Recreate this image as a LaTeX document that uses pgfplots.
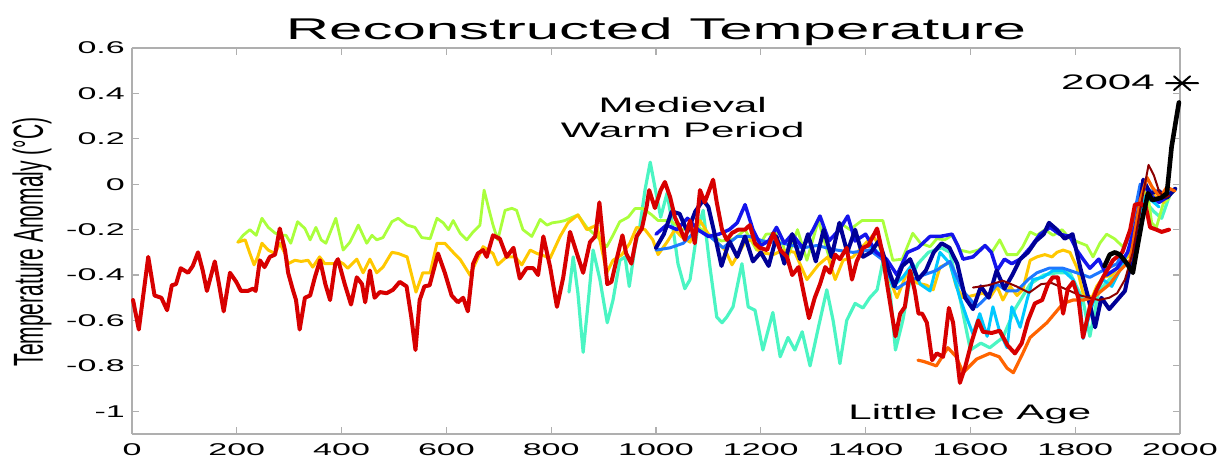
\documentclass[border=0pt]{standalone}
\usepackage{pgfplots}
\pgfplotsset{compat=1.18}
\usepackage{fontspec}
\setmainfont{Liberation Sans}
\newcommand{\sx}[1]{\scalebox{2}[1]{#1}}
\definecolor{cnavy}{RGB}{0,0,150}
\definecolor{cblue}{RGB}{20,20,235}
\definecolor{clblue}{RGB}{30,120,255}
\definecolor{ccyan}{RGB}{0,200,255}
\definecolor{caqua}{RGB}{75,245,195}
\definecolor{cyg}{RGB}{170,255,60}
\definecolor{cyel}{RGB}{255,200,0}
\definecolor{corange}{RGB}{255,100,0}
\definecolor{cred}{RGB}{215,0,0}
\definecolor{cdred}{RGB}{140,0,0}
\definecolor{axgray}{RGB}{175,175,175}
\begin{document}
\begin{tikzpicture}
\useasboundingbox (-132pt,-23pt) rectangle (1089pt,434pt);
\begin{axis}[
  at={(0pt,0pt)}, anchor=south west,
  width=1048pt, height=386pt, scale only axis,
  xmin=0, xmax=2000, ymin=-1.1, ymax=0.6,
  clip=false,
  xtick={0,200,400,600,800,1000,1200,1400,1600,1800,2000},
  xticklabels={\sx{0},\sx{200},\sx{400},\sx{600},\sx{800},\sx{1000},\sx{1200},\sx{1400},\sx{1600},\sx{1800},\sx{2000}},
  ytick={-1,-0.8,-0.6,-0.4,-0.2,0,0.2,0.4,0.6},
  yticklabels={\sx{-1},\sx{-0.8},\sx{-0.6},\sx{-0.4},\sx{-0.2},\sx{0},\sx{0.2},\sx{0.4},\sx{0.6}},
  tick label style={font=\fontsize{17}{20}\selectfont, inner sep=0pt},
  yticklabel style={anchor=east, xshift=-7pt},
  xticklabel style={anchor=north, yshift=-9pt},
  tick align=inside,
  major tick length=7pt,
  tick style={draw=axgray, line width=1.2pt},
  separate axis lines,
  x axis line style={draw=axgray, line width=1.3pt},
  y axis line style={draw=axgray, line width=2.6pt},
  every axis plot/.append style={line join=round, line cap=round, mark=none},
]
% Esper (aquamarine)
\addplot[caqua, line width=3.2pt] coordinates {(834,-0.475) (842,-0.32) (851,-0.48) (861,-0.74) (871,-0.51) (880,-0.29) (893,-0.42) (907,-0.61) (918,-0.51) (931,-0.335) (941,-0.32) (949,-0.45) (960,-0.275) (969,-0.19) (979,-0.026) (989,0.097) (998,-0.013) (1009,-0.145) (1021,-0.04) (1031,-0.17) (1042,-0.35) (1055,-0.46) (1065,-0.42) (1078,-0.216) (1090,-0.115) (1103,-0.365) (1116,-0.585) (1126,-0.61) (1135,-0.585) (1147,-0.54) (1155,-0.45) (1164,-0.35) (1176,-0.54) (1189,-0.555) (1204,-0.73) (1223,-0.565) (1237,-0.76) (1252,-0.675) (1265,-0.73) (1279,-0.65) (1294,-0.80) (1310,-0.63) (1326,-0.465) (1338,-0.6) (1351,-0.79) (1364,-0.60) (1380,-0.525) (1395,-0.545) (1408,-0.50) (1422,-0.465) (1433,-0.34) (1447,-0.48) (1457,-0.73) (1471,-0.60) (1485,-0.42) (1500,-0.35) (1520,-0.3) (1545,-0.28) (1561,-0.3) (1580,-0.5) (1600,-0.73) (1620,-0.7) (1637,-0.72) (1662,-0.675) (1685,-0.55) (1714,-0.44) (1740,-0.4) (1765,-0.39) (1790,-0.39) (1815,-0.51) (1828,-0.67) (1845,-0.47) (1865,-0.42) (1885,-0.35) (1905,-0.3) (1920,-0.18) (1935,-0.08) (1950,-0.12) (1965,-0.15) (1980,-0.05) (1992,-0.02)};
% Mann & Jones 2003 (yellow-green)
\addplot[cyg, line width=2.8pt] coordinates {(202,-0.255) (212,-0.225) (225,-0.2) (237,-0.225) (248,-0.15) (260,-0.19) (273,-0.215) (285,-0.225) (294,-0.225) (303,-0.26) (316,-0.165) (330,-0.195) (340,-0.245) (351,-0.19) (361,-0.245) (370,-0.26) (389,-0.15) (403,-0.29) (416,-0.255) (432,-0.18) (448,-0.26) (458,-0.225) (467,-0.245) (479,-0.235) (496,-0.165) (508,-0.15) (525,-0.18) (540,-0.19) (553,-0.235) (569,-0.24) (582,-0.15) (594,-0.17) (604,-0.2) (613,-0.16) (626,-0.215) (639,-0.245) (651,-0.21) (664,-0.18) (672,-0.026) (680,-0.1) (689,-0.18) (698,-0.245) (712,-0.115) (725,-0.106) (734,-0.115) (746,-0.2) (763,-0.23) (779,-0.155) (792,-0.18) (802,-0.17) (817,-0.165) (826,-0.16) (851,-0.135) (868,-0.19) (887,-0.23) (906,-0.275) (918,-0.225) (931,-0.165) (947,-0.145) (960,-0.107) (975,-0.107) (992,-0.135) (1004,-0.16) (1027,-0.16) (1050,-0.2) (1075,-0.18) (1100,-0.22) (1125,-0.25) (1150,-0.24) (1170,-0.2) (1192,-0.29) (1210,-0.22) (1237,-0.216) (1250,-0.335) (1270,-0.2) (1288,-0.335) (1310,-0.16) (1332,-0.335) (1351,-0.17) (1370,-0.2) (1393,-0.16) (1408,-0.16) (1433,-0.16) (1452,-0.335) (1470,-0.33) (1490,-0.216) (1505,-0.26) (1523,-0.275) (1536,-0.24) (1551,-0.245) (1565,-0.225) (1580,-0.29) (1599,-0.3) (1615,-0.29) (1628,-0.27) (1641,-0.3) (1656,-0.245) (1670,-0.31) (1689,-0.31) (1700,-0.275) (1714,-0.21) (1727,-0.225) (1742,-0.2) (1758,-0.225) (1775,-0.2) (1790,-0.24) (1806,-0.255) (1822,-0.27) (1834,-0.32) (1847,-0.26) (1860,-0.22) (1875,-0.24) (1891,-0.275) (1905,-0.22) (1920,-0.115) (1937,-0.013) (1946,-0.17) (1955,-0.19) (1968,-0.085) (1980,-0.06)};
% Jones & Mann 2004 (yellow)
\addplot[cyel, line width=3pt] coordinates {(202,-0.255) (216,-0.245) (225,-0.305) (233,-0.355) (240,-0.32) (248,-0.26) (260,-0.29) (273,-0.305) (282,-0.26) (292,-0.305) (298,-0.35) (311,-0.335) (323,-0.34) (336,-0.335) (345,-0.365) (358,-0.32) (368,-0.35) (387,-0.35) (391,-0.335) (403,-0.35) (412,-0.37) (429,-0.33) (441,-0.39) (454,-0.33) (467,-0.39) (479,-0.365) (496,-0.30) (508,-0.305) (525,-0.32) (542,-0.475) (555,-0.39) (569,-0.39) (582,-0.26) (597,-0.26) (613,-0.30) (626,-0.33) (645,-0.40) (658,-0.335) (670,-0.275) (689,-0.305) (698,-0.355) (715,-0.32) (731,-0.32) (744,-0.355) (760,-0.29) (773,-0.305) (798,-0.325) (817,-0.23) (832,-0.17) (851,-0.135) (868,-0.2) (887,-0.18) (906,-0.39) (918,-0.335) (935,-0.31) (950,-0.26) (963,-0.19) (979,-0.2) (994,-0.245) (1004,-0.31) (1021,-0.255) (1036,-0.2) (1048,-0.23) (1065,-0.255) (1084,-0.16) (1099,-0.216) (1116,-0.255) (1132,-0.29) (1145,-0.355) (1154,-0.32) (1170,-0.255) (1183,-0.245) (1198,-0.3) (1224,-0.31) (1242,-0.29) (1265,-0.3) (1288,-0.42) (1310,-0.355) (1328,-0.32) (1342,-0.42) (1357,-0.335) (1376,-0.32) (1402,-0.255) (1414,-0.225) (1427,-0.275) (1441,-0.39) (1460,-0.50) (1479,-0.39) (1498,-0.435) (1517,-0.445) (1529,-0.465) (1542,-0.365) (1561,-0.345) (1573,-0.45) (1586,-0.50) (1605,-0.49) (1624,-0.48) (1637,-0.50) (1651,-0.45) (1662,-0.51) (1676,-0.45) (1689,-0.49) (1700,-0.465) (1714,-0.335) (1727,-0.32) (1742,-0.31) (1756,-0.32) (1765,-0.30) (1777,-0.29) (1790,-0.30) (1803,-0.365) (1815,-0.48) (1832,-0.50) (1841,-0.45) (1853,-0.41) (1870,-0.4) (1885,-0.35) (1900,-0.32) (1915,-0.22) (1930,-0.08) (1940,-0.02) (1955,-0.06) (1968,-0.08) (1980,-0.02)};
% Briffa (cyan)
\addplot[ccyan, line width=3pt] coordinates {(1402,-0.27) (1414,-0.28) (1433,-0.32) (1452,-0.45) (1471,-0.41) (1490,-0.35) (1504,-0.44) (1523,-0.47) (1542,-0.3) (1561,-0.35) (1580,-0.5) (1595,-0.6) (1605,-0.66) (1618,-0.57) (1632,-0.67) (1643,-0.54) (1656,-0.65) (1670,-0.72) (1679,-0.54) (1695,-0.63) (1708,-0.51) (1719,-0.42) (1738,-0.41) (1758,-0.38) (1777,-0.38) (1796,-0.42) (1809,-0.5) (1815,-0.68) (1828,-0.57) (1841,-0.47) (1853,-0.42) (1870,-0.45) (1885,-0.38) (1900,-0.3) (1920,-0.15) (1935,-0.05) (1945,-0.07) (1960,-0.1)};
% Crowley (light blue)
\addplot[clblue, line width=3pt] coordinates {(1000,-0.29) (1027,-0.28) (1052,-0.26) (1078,-0.2) (1103,-0.23) (1128,-0.28) (1155,-0.23) (1179,-0.23) (1204,-0.25) (1242,-0.26) (1280,-0.28) (1307,-0.27) (1345,-0.29) (1376,-0.3) (1408,-0.29) (1431,-0.33) (1447,-0.41) (1460,-0.46) (1473,-0.44) (1490,-0.42) (1510,-0.4) (1535,-0.38) (1561,-0.34) (1586,-0.47) (1612,-0.54) (1630,-0.5) (1651,-0.44) (1670,-0.47) (1689,-0.47) (1710,-0.42) (1727,-0.39) (1750,-0.37) (1777,-0.37) (1803,-0.39) (1828,-0.41) (1853,-0.38) (1880,-0.35) (1905,-0.22) (1924,0.0) (1945,-0.03) (1968,-0.04) (1990,-0.02)};
% Mann 1999 (blue)
\addplot[cblue, line width=3.5pt] coordinates {(1000,-0.22) (1020,-0.18) (1040,-0.2) (1060,-0.15) (1080,-0.2) (1100,-0.23) (1120,-0.22) (1140,-0.2) (1155,-0.17) (1170,-0.09) (1185,-0.2) (1200,-0.27) (1215,-0.25) (1230,-0.19) (1245,-0.26) (1260,-0.22) (1280,-0.28) (1300,-0.2) (1313,-0.14) (1330,-0.25) (1350,-0.2) (1366,-0.14) (1380,-0.25) (1400,-0.22) (1420,-0.3) (1440,-0.33) (1460,-0.4) (1480,-0.3) (1500,-0.28) (1523,-0.23) (1542,-0.23) (1565,-0.22) (1576,-0.27) (1586,-0.33) (1605,-0.32) (1628,-0.27) (1640,-0.3) (1651,-0.38) (1665,-0.33) (1679,-0.35) (1695,-0.33) (1714,-0.28) (1733,-0.22) (1752,-0.19) (1770,-0.22) (1790,-0.23) (1803,-0.29) (1815,-0.33) (1828,-0.37) (1845,-0.33) (1860,-0.4) (1880,-0.37) (1900,-0.3) (1915,-0.18) (1930,0.0) (1945,-0.05) (1960,-0.08) (1980,-0.05)};
% Jones 1998 (navy)
\addplot[cnavy, line width=4pt] coordinates {(1000,-0.28) (1015,-0.22) (1030,-0.12) (1045,-0.13) (1060,-0.21) (1075,-0.12) (1090,-0.07) (1100,-0.1) (1110,-0.2) (1125,-0.36) (1140,-0.25) (1155,-0.32) (1170,-0.23) (1185,-0.34) (1200,-0.3) (1215,-0.36) (1230,-0.23) (1245,-0.35) (1260,-0.22) (1275,-0.33) (1290,-0.22) (1305,-0.34) (1320,-0.2) (1335,-0.32) (1350,-0.17) (1365,-0.3) (1380,-0.2) (1395,-0.32) (1410,-0.3) (1425,-0.25) (1440,-0.35) (1455,-0.45) (1470,-0.36) (1485,-0.33) (1500,-0.42) (1515,-0.38) (1530,-0.3) (1545,-0.26) (1560,-0.28) (1575,-0.35) (1590,-0.5) (1605,-0.55) (1620,-0.45) (1635,-0.5) (1650,-0.38) (1665,-0.46) (1680,-0.4) (1695,-0.33) (1710,-0.3) (1725,-0.25) (1740,-0.22) (1750,-0.17) (1765,-0.2) (1780,-0.24) (1795,-0.22) (1810,-0.37) (1825,-0.5) (1838,-0.63) (1850,-0.5) (1865,-0.55) (1880,-0.51) (1895,-0.47) (1910,-0.3) (1920,-0.15) (1930,0.02) (1943,-0.04) (1960,-0.03) (1975,-0.06) (1991,-0.02)};
% orange
\addplot[corange, line width=3.2pt] coordinates {(1500,-0.775) (1510,-0.78) (1523,-0.79) (1535,-0.80) (1557,-0.72) (1573,-0.76) (1586,-0.83) (1612,-0.77) (1637,-0.745) (1655,-0.76) (1670,-0.81) (1682,-0.83) (1700,-0.745) (1714,-0.675) (1746,-0.61) (1777,-0.525) (1796,-0.51) (1815,-0.51) (1834,-0.50) (1850,-0.47) (1866,-0.44) (1885,-0.38) (1905,-0.335) (1924,-0.07) (1937,0.03) (1947,-0.013) (1962,-0.057) (1975,-0.013) (1990,-0.03)};
% dark red (smooth)
\addplot[cdred, line width=2pt] coordinates {(1605,-0.455) (1634,-0.445) (1662,-0.425) (1688,-0.45) (1712,-0.478) (1735,-0.44) (1755,-0.435) (1780,-0.46) (1810,-0.49) (1845,-0.51) (1865,-0.5) (1880,-0.48) (1895,-0.42) (1910,-0.3) (1925,-0.1) (1940,0.085) (1950,0.04) (1960,-0.03) (1970,-0.06) (1980,-0.05)};
% Moberg (red)
\addplot[cred, line width=4pt] coordinates {(2,-0.51) (13,-0.64) (31,-0.32) (43,-0.49) (56,-0.50) (67,-0.555) (76,-0.445) (84,-0.44) (93,-0.37) (107,-0.39) (116,-0.36) (126,-0.30) (135,-0.38) (143,-0.47) (158,-0.34) (166,-0.44) (175,-0.56) (187,-0.39) (199,-0.43) (208,-0.47) (221,-0.47) (231,-0.46) (236,-0.47) (244,-0.335) (253,-0.365) (263,-0.32) (273,-0.31) (282,-0.195) (292,-0.29) (298,-0.39) (307,-0.465) (313,-0.51) (320,-0.64) (330,-0.50) (340,-0.49) (349,-0.41) (359,-0.335) (369,-0.44) (378,-0.51) (388,-0.35) (393,-0.33) (406,-0.44) (418,-0.53) (429,-0.41) (439,-0.44) (445,-0.52) (454,-0.38) (463,-0.50) (473,-0.475) (486,-0.48) (498,-0.465) (511,-0.43) (524,-0.45) (533,-0.585) (541,-0.73) (549,-0.51) (558,-0.45) (568,-0.445) (584,-0.305) (597,-0.39) (610,-0.49) (622,-0.52) (632,-0.50) (641,-0.56) (651,-0.35) (660,-0.305) (670,-0.29) (677,-0.32) (689,-0.225) (702,-0.24) (715,-0.32) (728,-0.28) (740,-0.415) (753,-0.37) (766,-0.37) (775,-0.40) (785,-0.23) (798,-0.365) (811,-0.54) (823,-0.41) (836,-0.21) (849,-0.305) (861,-0.39) (874,-0.255) (884,-0.23) (892,-0.08) (899,-0.245) (907,-0.44) (915,-0.43) (926,-0.32) (936,-0.225) (943,-0.305) (953,-0.35) (963,-0.23) (973,-0.195) (982,-0.10) (987,-0.026) (998,-0.105) (1009,-0.026) (1017,0.01) (1027,-0.057) (1036,-0.145) (1046,-0.195) (1055,-0.245) (1065,-0.16) (1074,-0.26) (1084,-0.026) (1093,-0.08) (1109,0.02) (1116,-0.08) (1126,-0.20) (1135,-0.245) (1145,-0.215) (1157,-0.20) (1170,-0.20) (1179,-0.18) (1189,-0.26) (1198,-0.28) (1212,-0.29) (1224,-0.216) (1237,-0.29) (1250,-0.32) (1260,-0.40) (1272,-0.365) (1282,-0.48) (1292,-0.59) (1303,-0.50) (1313,-0.44) (1323,-0.365) (1332,-0.39) (1342,-0.31) (1351,-0.33) (1364,-0.28) (1374,-0.42) (1383,-0.34) (1395,-0.28) (1405,-0.27) (1422,-0.195) (1431,-0.29) (1441,-0.44) (1450,-0.57) (1457,-0.67) (1466,-0.57) (1475,-0.54) (1485,-0.38) (1494,-0.47) (1501,-0.57) (1508,-0.57) (1517,-0.61) (1527,-0.775) (1536,-0.745) (1548,-0.76) (1559,-0.545) (1567,-0.61) (1580,-0.875) (1590,-0.805) (1603,-0.69) (1615,-0.60) (1624,-0.65) (1641,-0.655) (1656,-0.645) (1671,-0.71) (1685,-0.745) (1698,-0.70) (1710,-0.60) (1723,-0.525) (1737,-0.51) (1748,-0.44) (1757,-0.41) (1767,-0.41) (1777,-0.57) (1786,-0.46) (1796,-0.43) (1806,-0.5) (1815,-0.675) (1828,-0.54) (1840,-0.47) (1853,-0.41) (1872,-0.335) (1890,-0.3) (1905,-0.2) (1914,-0.09) (1925,-0.085) (1935,-0.1) (1943,-0.19) (1955,-0.2) (1965,-0.21) (1979,-0.2)};
% Instrumental (black)
\addplot[black, line width=4.6pt] coordinates {(1856,-0.36) (1866,-0.31) (1876,-0.3) (1885,-0.31) (1899,-0.35) (1910,-0.39) (1920,-0.26) (1929,-0.145) (1939,-0.04) (1947,-0.07) (1955,-0.065) (1964,-0.06) (1975,-0.04) (1984,0.165) (1998,0.36)};
\addplot[only marks, mark=asterisk, mark size=8pt, mark options={xscale=2, rotate=90, line width=2pt, black}] coordinates {(2004,0.445)};
\node[anchor=base, inner sep=0pt, font=\fontsize{21}{25}\selectfont] at (axis cs:1051,0.317) {\sx{Medieval}};
\node[anchor=base, inner sep=0pt, font=\fontsize{21}{25}\selectfont] at (axis cs:1051,0.207) {\sx{Warm Period}};
\node[anchor=base, inner sep=0pt, font=\fontsize{21}{25}\selectfont] at (axis cs:1599,-1.035) {\sx{Little Ice Age}};
\node[anchor=base east, inner sep=0pt, font=\fontsize{21}{25}\selectfont] at (axis cs:1952,0.417) {\sx{2004}};
\end{axis}
\node[anchor=base, inner sep=0pt, font=\fontsize{30}{36}\selectfont] at (524pt,394pt) {\sx{Reconstructed Temperature}};
\node[inner sep=0pt, font=\fontsize{21}{25}\selectfont] at (-100pt,192pt) {\sx{\rotatebox{90}{Temperature Anomaly (°C)}}};
\end{tikzpicture}
\end{document}
